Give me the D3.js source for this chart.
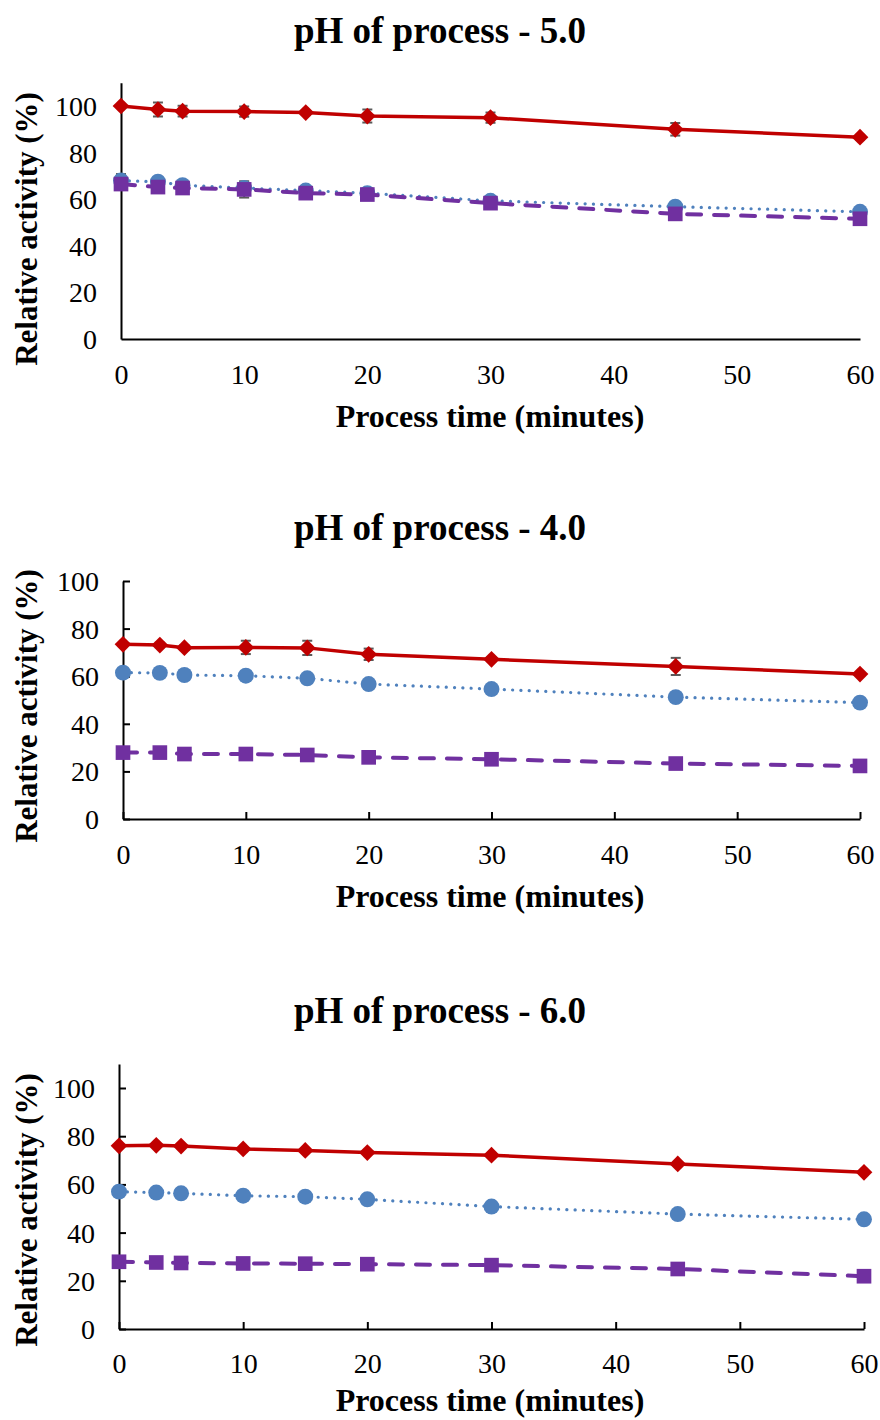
<!DOCTYPE html>
<html>
<head>
<meta charset="utf-8">
<script src="https://cdn.jsdelivr.net/npm/d3@7"></script>
<style>
  html, body { margin: 0; padding: 0; background: #fff; }
  svg { display: block; }
  text { font-family: "Liberation Serif", "Times New Roman", serif; fill: #000; }
</style>
</head>
<body>
<svg id="chart" width="880" height="1420"></svg>
<script>
// Sampling times (minutes)
const times = [0, 3, 5, 10, 15, 20, 30, 45, 60];
const xTicks = [0, 10, 20, 30, 40, 50, 60];
const yTicks = [0, 20, 40, 60, 80, 100];

// pH 5.0
const ph50Red    = [100, 98.5, 97.8, 97.6, 97.2, 95.7, 95.0, 90.0, 86.6];
const ph50RedErr = [0, 3, 2.3, 2.2, 0.8, 2.8, 2.2, 2.7, 1];
const ph50Blue    = [68, 67.5, 66, 64.8, 63.7, 62.6, 59.3, 56.8, 54.6];
const ph50BlueErr = [2.8, 2, 0.8, 2, 1.8, 1.2, 0.8, 1.5, 0.5];
const ph50Purple    = [66.5, 65.2, 64.8, 64.2, 62.6, 62.0, 58.3, 53.7, 51.6];
const ph50PurpleErr = [0.8, 1, 0.6, 3.5, 1, 1.5, 1, 0.8, 0.5];

// pH 4.0
const ph40Red    = [73.4, 73.1, 72.0, 72.1, 71.9, 69.2, 67.1, 64.1, 60.9];
const ph40RedErr = [0.8, 1, 1, 2.8, 3, 2.4, 0.8, 3.6, 0.5];
const ph40Blue    = [61.5, 61.4, 60.5, 60.2, 59.1, 56.7, 54.6, 51.2, 48.9];
const ph40BlueErr = [0, 0, 0, 0, 0, 0, 0, 0, 0];
const ph40Purple    = [27.9, 27.9, 27.3, 27.3, 26.9, 25.9, 25.1, 23.3, 22.3];
const ph40PurpleErr = [0, 0, 0, 0, 0, 0, 0, 0, 0];

// pH 6.0
const ph60Red    = [76.0, 76.2, 75.9, 74.7, 74.1, 73.2, 72.1, 68.5, 65.0];
const ph60RedErr = [0, 0, 0, 0, 0, 0, 0, 0, 0];
const ph60Blue    = [57.0, 56.6, 56.3, 55.3, 54.9, 53.8, 50.8, 47.7, 45.5];
const ph60BlueErr = [0, 0, 0, 0, 0, 0, 0, 0, 0];
const ph60Purple    = [27.9, 27.6, 27.4, 27.2, 27.1, 26.9, 26.5, 24.9, 21.9];
const ph60PurpleErr = [0, 0, 0, 0, 0, 0, 0, 0, 0];

const titles = ["pH of process - 5.0", "pH of process - 4.0", "pH of process - 6.0"];
const xLabel = "Process time (minutes)";
const yLabel = "Relative activity (%)";

const svg = d3.select("#chart");

const panels = [
  { title: titles[0], yMax: 110, ticks: false,
    left: 121, right: 860, bottom: 339, titleY: 43, tickY: 384, xLabelY: 427, yLabelY: 229,
    series: [[ph50Red, ph50RedErr], [ph50Blue, ph50BlueErr], [ph50Purple, ph50PurpleErr]] },
  { title: titles[1], yMax: 100, ticks: true,
    left: 123, right: 860, bottom: 819, titleY: 540, tickY: 864, xLabelY: 907, yLabelY: 706,
    series: [[ph40Red, ph40RedErr], [ph40Blue, ph40BlueErr], [ph40Purple, ph40PurpleErr]] },
  { title: titles[2], yMax: 110, ticks: true,
    left: 119, right: 864, bottom: 1329, titleY: 1023, tickY: 1373, xLabelY: 1411, yLabelY: 1210,
    series: [[ph60Red, ph60RedErr], [ph60Blue, ph60BlueErr], [ph60Purple, ph60PurpleErr]] }
];
// pixel height of 100 units for each panel
const unitPx = [233, 238, 241];

const styles = [
  { color: "#C00000", width: 3.5, dash: null, cap: "butt", shape: d3.symbolSquare, size: 140, rotate: 45 },
  { color: "#4F81BD", width: 3.2, dash: "0.1,8.2", cap: "round", shape: d3.symbolCircle, size: 200, rotate: 0 },
  { color: "#7030A0", width: 4, dash: "14,13", cap: "round", shape: d3.symbolSquare, size: 215, rotate: 0 }
];
const drawOrder = [1, 2, 0];

panels.forEach((p, pi) => {
  const top = p.bottom - unitPx[pi] * p.yMax / 100;
  const x = d3.scaleLinear().domain([0, 60]).range([p.left, p.right]);
  const y = d3.scaleLinear().domain([0, p.yMax]).range([p.bottom, top]);
  const g = svg.append("g");

  // title
  g.append("text").attr("x", 440).attr("y", p.titleY)
    .attr("text-anchor", "middle").attr("font-size", 37).attr("font-weight", "bold")
    .text(p.title);

  // axes
  const tickLen = p.ticks ? -7 : 0;
  const xAxis = d3.axisBottom(x).tickValues(xTicks).tickSizeInner(tickLen).tickSizeOuter(0).tickPadding(0);
  const yAxis = d3.axisLeft(y).tickValues(yTicks).tickSizeInner(tickLen).tickSizeOuter(0).tickPadding(0);

  const gx = g.append("g").attr("transform", `translate(0,${p.bottom})`).call(xAxis);
  const gy = g.append("g").attr("transform", `translate(${p.left},0)`).call(yAxis);
  [gx, gy].forEach(a => {
    a.select(".domain").attr("stroke", "#000").attr("stroke-width", 2);
    a.selectAll(".tick line").attr("stroke", "#000").attr("stroke-width", 2);
    a.selectAll(".tick text").attr("font-size", 28)
      .attr("font-family", "Liberation Serif, serif").attr("fill", "#000");
  });
  gx.selectAll(".tick text").attr("y", p.tickY - p.bottom).attr("dy", "0");
  gy.selectAll(".tick text").attr("x", -24).attr("dy", "0.34em");

  // axis titles
  g.append("text").attr("x", 490).attr("y", p.xLabelY)
    .attr("text-anchor", "middle").attr("font-size", 32).attr("font-weight", "bold")
    .text(xLabel);
  g.append("text").attr("transform", `translate(37,${p.yLabelY}) rotate(-90)`)
    .attr("text-anchor", "middle").attr("font-size", 31).attr("font-weight", "bold")
    .text(yLabel);

  // error bars
  p.series.forEach(([vals, errs]) => {
    const eg = g.append("g").attr("stroke", "#5A5A5A").attr("stroke-width", 2);
    times.forEach((t, i) => {
      const e = errs[i];
      if (!e) return;
      const cx = x(t), y1 = y(vals[i] - e), y2 = y(vals[i] + e);
      eg.append("line").attr("x1", cx).attr("x2", cx).attr("y1", y1).attr("y2", y2);
      eg.append("line").attr("x1", cx - 5).attr("x2", cx + 5).attr("y1", y1).attr("y2", y1);
      eg.append("line").attr("x1", cx - 5).attr("x2", cx + 5).attr("y1", y2).attr("y2", y2);
    });
  });

  // lines and markers
  const line = d3.line().x((d, i) => x(times[i])).y(d => y(d));
  drawOrder.forEach(si => {
    const vals = p.series[si][0];
    const st = styles[si];
    g.append("path").datum(vals).attr("d", line)
      .attr("fill", "none").attr("stroke", st.color).attr("stroke-width", st.width)
      .attr("stroke-linecap", st.cap)
      .attr("stroke-dasharray", st.dash);
    const sym = d3.symbol().type(st.shape).size(st.size);
    g.append("g").selectAll("path").data(vals).join("path")
      .attr("transform", (d, i) => `translate(${x(times[i])},${y(d)}) rotate(${st.rotate})`)
      .attr("d", sym).attr("fill", st.color);
  });
});
</script>
</body>
</html>
